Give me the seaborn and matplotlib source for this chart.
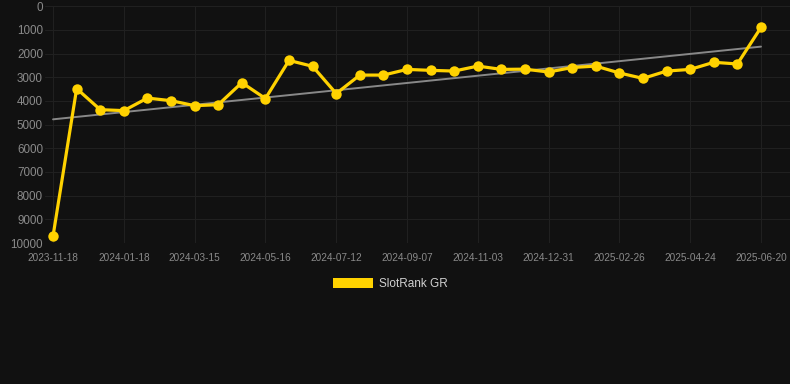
import numpy as np
import pandas as pd
import matplotlib
matplotlib.use("Agg")
import matplotlib.pyplot as plt
from matplotlib.patches import Patch
import seaborn as sns

# data (rank, lower is better)
dates = ["2023-11-18", "2023-12-08", "2023-12-28", "2024-01-18", "2024-02-06",
         "2024-02-25", "2024-03-15", "2024-04-04", "2024-04-25", "2024-05-16",
         "2024-06-04", "2024-06-23", "2024-07-12", "2024-07-31", "2024-08-19",
         "2024-09-07", "2024-09-26", "2024-10-15", "2024-11-03", "2024-11-22",
         "2024-12-12", "2024-12-31", "2025-01-19", "2025-02-07", "2025-02-26",
         "2025-03-17", "2025-04-05", "2025-04-24", "2025-05-13", "2025-06-01",
         "2025-06-20"]
ranks = [9700, 3480, 4370, 4410, 3880, 3990, 4200, 4160, 3230, 3900,
         2290, 2540, 3690, 2910, 2910, 2670, 2710, 2740, 2530, 2670,
         2660, 2780, 2590, 2530, 2820, 3050, 2740, 2670, 2370, 2440,
         900]
series_name = "SlotRank GR"
y_ticks = list(range(0, 10001, 1000))

bg = "#111111"
yellow = "#FFD200"

df = pd.DataFrame({"date": dates, "rank": ranks})
df["pos"] = np.arange(len(df))

# linear trend through the series
slope, icpt = np.polyfit(df["pos"], df["rank"], 1)
df["trend"] = slope * df["pos"] + icpt

sns.set_style("dark")
plt.rcParams["font.family"] = ["Liberation Sans", "DejaVu Sans"]

fig = plt.figure(figsize=(7.9, 3.84), dpi=100, facecolor=bg)
ax = fig.add_axes([0.057, 0.367, 0.943, 0.617])
ax.set_facecolor(bg)

sns.lineplot(data=df, x="pos", y="trend", color="#888888", linewidth=1.4, ax=ax)
sns.lineplot(data=df, x="pos", y="rank", color=yellow, linewidth=2.3,
             marker="o", markersize=7.5, markeredgewidth=0, ax=ax)

ax.set_ylim(10000, 0)
ax.set_yticks(y_ticks)
ax.set_yticklabels([str(t) for t in y_ticks])
ax.set_xlim(-0.34, 31.23)
ax.set_xticks(df["pos"][::3])
ax.set_xticklabels(dates[::3])
ax.set_xlabel("")
ax.set_ylabel("")

ax.grid(True, color="#202020", linewidth=0.8)
for s in ax.spines.values():
    s.set_visible(False)
ax.tick_params(axis="x", colors="#202020", labelcolor="#8a8a8a", labelsize=7.2,
               length=5, width=0.8, pad=2)
ax.tick_params(axis="y", labelcolor="#8a8a8a", labelsize=8.4, length=0, pad=1.5)

handle = Patch(facecolor=yellow, edgecolor="none")
fig.legend([handle], [series_name], loc="center", bbox_to_anchor=(0.494, 0.26),
           frameon=False, fontsize=8.5, labelcolor="#d0d0d0",
           handlelength=3.4, handleheight=0.85, handletextpad=0.55)

fig.savefig("out.png", dpi=100, facecolor=bg)
